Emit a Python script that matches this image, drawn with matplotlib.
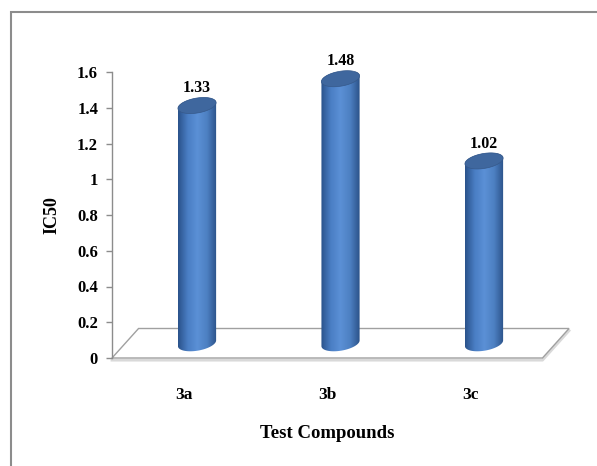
import numpy as np
import matplotlib
matplotlib.use("Agg")
import matplotlib.pyplot as plt
from matplotlib.patches import Polygon, Rectangle
from matplotlib.colors import LinearSegmentedColormap

# IC50 values for the test compounds
compounds = ["3a", "3b", "3c"]
ic50 = [1.33, 1.48, 1.02]
yticks = [0, 0.2, 0.4, 0.6, 0.8, 1, 1.2, 1.4, 1.6]

plt.rcParams["font.family"] = ["Liberation Serif", "DejaVu Serif"]
plt.rcParams["font.weight"] = "bold"

fig = plt.figure(figsize=(5.97, 4.66), dpi=100)
ax = fig.add_axes([112 / 597, 108 / 466, 430.5 / 597, 286 / 466])
ax.set_xlim(-0.5, 2.5)
ax.set_ylim(0, 1.6)

# fake 3d: depth of the floor in data units
depth_x, depth_y = 0.185, 0.165
half_w = 0.133          # cylinder radius along x
ell_h = 0.042           # half height of the end ellipses
shear = 0.12            # tilt of the ellipses

body_cmap = LinearSegmentedColormap.from_list(
    "cyl", ["#2a528a", "#4a7ec4", "#5b90d6", "#4d80c2", "#2b5289"])


def ellipse_pts(cx, cy, t):
    x = cx + half_w * np.cos(t)
    y = cy + ell_h * np.sin(t) + shear * (x - cx)
    return x, y


# floor
floor = Polygon([(-0.5, 0), (2.5, 0), (2.5 + depth_x, depth_y), (-0.5 + depth_x, depth_y)],
                closed=True, facecolor="white", edgecolor="#a0a0a0", lw=1.0,
                clip_on=False, zorder=1)
ax.add_patch(floor)
ax.plot([-0.5, 2.5, 2.5 + depth_x], [-0.012, -0.012, depth_y - 0.012],
        color="#d9d9d9", lw=2, clip_on=False, zorder=0.9)

for i, (name, v) in enumerate(zip(compounds, ic50)):
    cx = i + depth_x / 2
    y0 = depth_y / 2
    y1 = y0 + v
    tb = np.linspace(np.pi, 2 * np.pi, 60)
    tt = np.linspace(0, np.pi, 60)
    bx, by = ellipse_pts(cx, y0, tb)
    tx, ty = ellipse_pts(cx, y1, tt)
    body = Polygon(np.column_stack([np.r_[bx, tx], np.r_[by, ty]]), closed=True,
                   facecolor="none", edgecolor="none", zorder=3, clip_on=False)
    ax.add_patch(body)
    grad = np.linspace(0, 1, 200).reshape(1, -1)
    im = ax.imshow(grad, cmap=body_cmap, aspect="auto", zorder=3,
                   extent=[cx - half_w, cx + half_w, y0 - 0.1, y1 + 0.1])
    im.set_clip_path(body)
    im.set_clip_box(None)

    ta = np.linspace(0, 2 * np.pi, 120)
    ex, ey = ellipse_pts(cx, y1, ta)
    ax.add_patch(Polygon(np.column_stack([ex, ey]), closed=True, clip_on=False,
                         facecolor="#3f679e", edgecolor="#36598a", lw=0.5, zorder=4))

    ax.annotate(f"{v:.2f}", xy=(cx, y1 + 0.052), xytext=(0, 0),
                textcoords="offset points", ha="center", va="bottom",
                fontsize=11.5, fontweight="bold", zorder=5, annotation_clip=False)

ax.set_xlim(-0.5, 2.5)
ax.set_ylim(0, 1.6)
ax.set_xticks(range(len(compounds)))
ax.set_xticklabels(compounds)
ax.tick_params(axis="x", length=0, pad=21, labelsize=12.5)
ax.set_yticks(yticks)
ax.set_yticklabels([f"{t:g}" for t in yticks])
ax.tick_params(axis="y", length=4, width=1, color="#8c8c8c", pad=6, labelsize=12)
for lab in ax.get_xticklabels() + ax.get_yticklabels():
    lab.set_fontweight("bold")

for s in ["top", "right", "bottom"]:
    ax.spines[s].set_visible(False)
ax.spines["left"].set_color("#8c8c8c")
ax.spines["left"].set_linewidth(1.0)

ax.set_xlabel("Test Compounds", fontsize=13.5, fontweight="bold", labelpad=16)
ax.set_ylabel("IC50", fontsize=13, fontweight="bold", labelpad=12)

# chart area border
fig.add_artist(Rectangle((11 / 597, -0.1), 1.2, (466 - 12) / 466 + 0.1,
                         transform=fig.transFigure, facecolor="none",
                         edgecolor="#8c8c8c", lw=1.5))

fig.savefig("out.png", dpi=100)
